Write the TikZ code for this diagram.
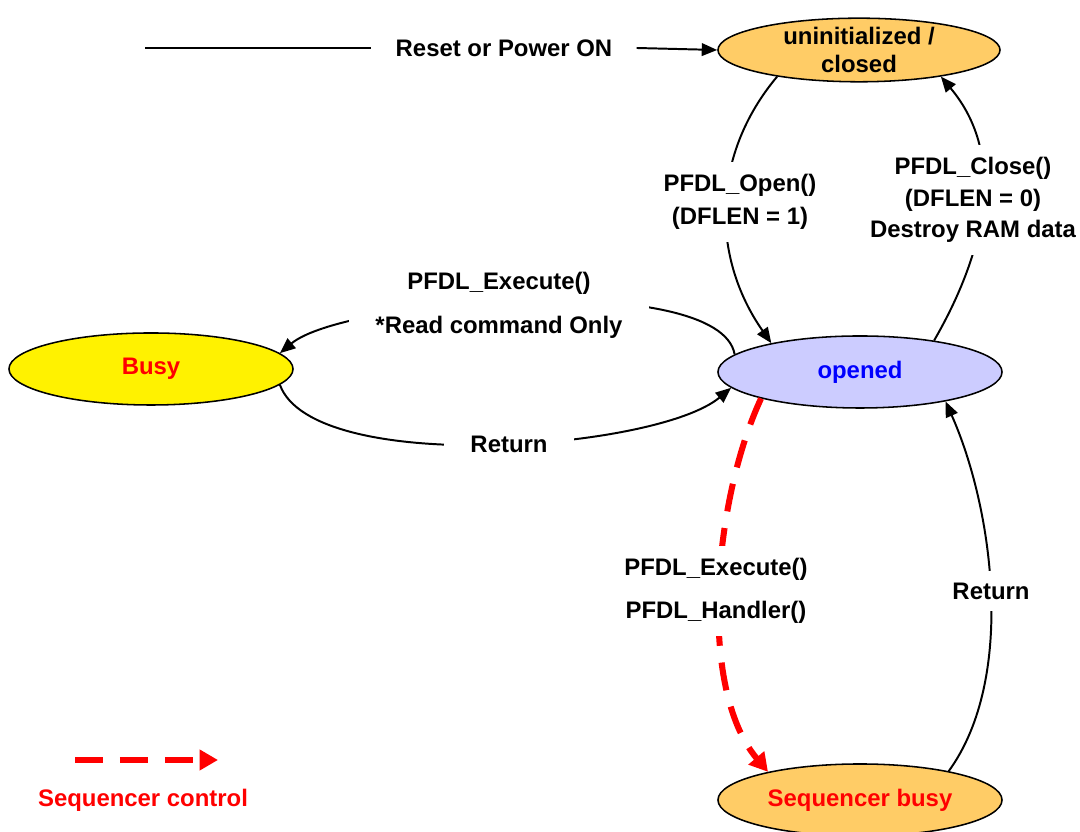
\documentclass[tikz,border=0pt]{standalone}
\usepackage{fontspec}
\setmainfont{Liberation Sans}
\usetikzlibrary{shapes,arrows.meta}
\definecolor{stateorange}{HTML}{FFCC66}
\definecolor{stateblue}{HTML}{CCCCFF}

\begin{document}
\begin{tikzpicture}[
                  x=0.025cm, y=0.025cm,
                  every node/.style={font=\fontsize{17}{19.5}\selectfont\bfseries, align=center},
                  state/.style={ellipse, draw, line width=1.1pt, minimum width=7.1cm, minimum height=1.8cm, inner sep=0pt},
                  trans/.style={line width=1.4pt, -{Triangle[length=11pt,width=9pt]}},
                  seqline/.style={red, line width=4.3pt, dash pattern=on 20pt off 12pt, -{Triangle[length=13pt,width=14pt]}},
                  lbl/.style={fill=white, inner xsep=0.65cm, inner ysep=0.3cm},
            ]
            \useasboundingbox (0,0) rectangle (1080,832);

            \node[state, fill=stateorange, minimum width=7.05cm, minimum height=1.5cm] (closed) at (859,782) {uninitialized /\\closed};
            \node[state, fill=yellow, text=red] (busy) at (151,463) {Busy};
            \node[state, fill=stateblue, text=blue] (opened) at (860,460) {opened};
            \node[state, fill=stateorange, text=red] (seqbusy) at (860,32) {Sequencer busy};

            \coordinate (rst) at (145,784);
            \node[inner xsep=0.6cm] (rsttxt) at (504,784) {Reset or Power ON};
            \draw[line width=1.4pt] (rst) -- (rsttxt.west);
            \draw[trans] (rsttxt.east) -- (closed.west);

            \draw[trans] (closed.198) to[out=230,in=125] (opened.162);
            \draw[trans] (opened.23) to[out=60,in=-50] (closed.342);
            \draw[trans] (opened.172) to[out=100,in=40,looseness=0.48] (busy.7);
            \draw[trans] (busy.353) to[out=290,in=220,looseness=0.55] (opened.187);
            \draw[seqline] (opened.195) to[out=245,in=130,looseness=0.76] (seqbusy.163);
            \draw[trans] (seqbusy.18) to[out=54,in=-66,looseness=0.8] (opened.341);

            \node[lbl] (l1) at (740,630) {PFDL\_Open()\\[4.4pt](DFLEN = 1)};
            \node[lbl] (l2) at (973,632) {PFDL\_Close()\\[3pt](DFLEN = 0)\\[3pt]Destroy RAM data};
            \node[lbl] (l3) at (499,527) {PFDL\_Execute()\\[12pt]*Read command Only};
            \node[lbl] (l4) at (509,388) {Return};
            \node[lbl] (l5) at (716,241) {PFDL\_Execute()\\[11pt]PFDL\_Handler()};
            \node[lbl] (l6) at (991,241) {Return};

            \coordinate (lgs) at (75,72);
            \coordinate (lge) at (218,72);
            \draw[seqline] (lgs) -- (lge);
            \node[text=red] (lgtxt) at (143,32) {Sequencer control};
      \end{tikzpicture}
\end{document}
